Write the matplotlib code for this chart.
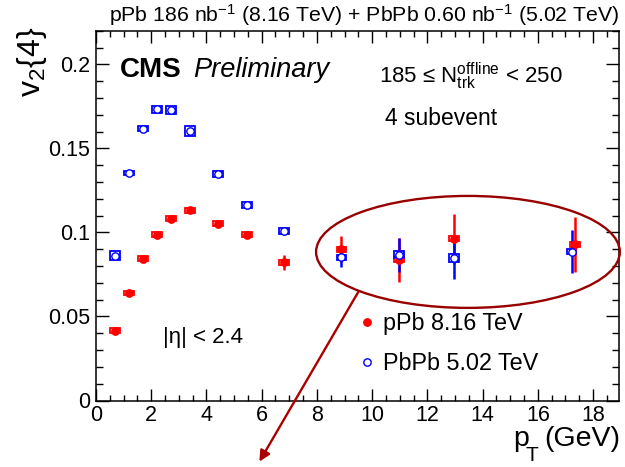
import matplotlib
matplotlib.use('Agg')
import matplotlib.pyplot as plt
from matplotlib.patches import Rectangle, Ellipse
from matplotlib.lines import Line2D
from matplotlib.ticker import MultipleLocator

plt.rcParams['font.family'] = ['Liberation Sans', 'DejaVu Sans']
plt.rcParams['mathtext.fontset'] = 'custom'
plt.rcParams['mathtext.rm'] = 'Liberation Sans'
plt.rcParams['mathtext.it'] = 'Liberation Sans:italic'
plt.rcParams['mathtext.bf'] = 'Liberation Sans:bold'

# pPb 8.16 TeV
pt_ppb = [0.68, 1.19, 1.70, 2.21, 2.72, 3.41, 4.43, 5.46, 6.81, 8.89, 10.96, 12.97, 17.34]
v2_ppb = [0.0414, 0.0640, 0.0844, 0.0987, 0.1080, 0.1132, 0.1052, 0.0987, 0.0821, 0.0900, 0.0837, 0.0961, 0.0930]
stat_ppb = [0.0004, 0.0004, 0.0005, 0.0006, 0.0007, 0.0008, 0.0010, 0.0022, 0.0042, 0.0078, 0.0130, 0.0149, 0.0163]
sys_ppb = [0.0015, 0.0013, 0.0013, 0.0014, 0.0015, 0.0014, 0.0015, 0.0016, 0.0016, 0.0014, 0.0014, 0.0015, 0.0014]

# PbPb 5.02 TeV
pt_pbpb = [0.68, 1.19, 1.70, 2.21, 2.72, 3.41, 4.43, 5.46, 6.81, 8.89, 10.96, 12.97, 17.22]
v2_pbpb = [0.0860, 0.1356, 0.1617, 0.1734, 0.1726, 0.1605, 0.1348, 0.1164, 0.1007, 0.0853, 0.0866, 0.0847, 0.0886]
stat_pbpb = [0.0004, 0.0004, 0.0005, 0.0006, 0.0007, 0.0008, 0.0010, 0.0024, 0.0024, 0.0057, 0.0099, 0.0124, 0.0129]
sys_pbpb = [0.0027, 0.0012, 0.0015, 0.0021, 0.0024, 0.0030, 0.0018, 0.0018, 0.0018, 0.0015, 0.0021, 0.0024, 0.0015]

box_hw = 0.18  # half width of the systematic boxes in GeV

W, H = 625, 467
def fx(x):
    return x / W
def fy(y):
    return 1 - y / H

fig = plt.figure(figsize=(6.25, 4.67), dpi=100)
ax = fig.add_axes([fx(96), fy(400.5), fx(619) - fx(96), fy(30.7) - fy(400.5)])
ax.set_xlim(0, 18.94)
ax.set_ylim(0, 0.22)

def draw_set(pt, v2, stat, sys, col, mfc):
    for x, y, s in zip(pt, v2, sys):
        ax.add_patch(Rectangle((x - box_hw, y - s), 2 * box_hw, 2 * s,
                               fill=False, ec=col, lw=1.3, zorder=3))
    ax.errorbar(pt, v2, yerr=stat, fmt='o', color=col, mfc=mfc, mec=col,
                ms=5.3, mew=1.0, elinewidth=1.8, capsize=0, zorder=4)

draw_set(pt_ppb, v2_ppb, stat_ppb, sys_ppb, 'red', 'red')
draw_set(pt_pbpb, v2_pbpb, stat_pbpb, sys_pbpb, 'blue', 'white')

# ROOT-like frame and ticks
for sp in ax.spines.values():
    sp.set_linewidth(1.1)
ax.xaxis.set_major_locator(MultipleLocator(2))
ax.xaxis.set_minor_locator(MultipleLocator(0.5))
ax.yaxis.set_major_locator(MultipleLocator(0.05))
ax.yaxis.set_minor_locator(MultipleLocator(0.01))
ax.tick_params(axis='both', which='both', direction='in', top=True, right=True, width=1.0)
ax.tick_params(axis='x', which='major', length=8.5, pad=3, labelsize=15.5)
ax.tick_params(axis='x', which='minor', length=4.3)
ax.tick_params(axis='y', which='major', length=9.5, pad=4, labelsize=15.5)
ax.tick_params(axis='y', which='minor', length=5)
ax.set_yticks([0, 0.05, 0.1, 0.15, 0.2])
ax.set_yticklabels(['0', '0.05', '0.1', '0.15', '0.2'])

# labels
fig.text(fx(619), fy(22), r'pPb 186 nb$^{-1}$ (8.16 TeV) + PbPb 0.60 nb$^{-1}$ (5.02 TeV)',
         ha='right', va='baseline', fontsize=15.3)
fig.text(fx(32), fy(27), r'v$_2${4}', rotation=90, ha='center', va='top', fontsize=23)

# x title drawn ROOT style with a large, low subscript
fig.text(fx(513), fy(446), 'p', ha='left', va='baseline', fontsize=20.5)
fig.text(fx(526), fy(461), 'T', ha='left', va='baseline', fontsize=15)
fig.text(fx(620), fy(446), '(GeV)', ha='right', va='baseline', fontsize=20.5)

fig.text(fx(120), fy(77), 'CMS', fontsize=20, fontweight='bold', ha='left', va='baseline')
fig.text(fx(193), fy(77), 'Preliminary', fontsize=19.6, style='italic', ha='left', va='baseline')
fig.text(fx(379), fy(83), r'185 ≤ N$_{\mathrm{trk}}^{\mathrm{offline}}$ < 250', fontsize=16,
         ha='left', va='baseline')
fig.text(fx(385), fy(125), '4 subevent', fontsize=16.5, ha='left', va='baseline')
fig.text(fx(163), fy(343), '|η| < 2.4', fontsize=16, ha='left', va='baseline')

handles = [Line2D([], [], ls='none', marker='o', color='red', mfc='red', ms=5.3),
           Line2D([], [], ls='none', marker='o', color='blue', mfc='white', ms=5.3, mew=1.0)]
ax.legend(handles, ['pPb 8.16 TeV', 'PbPb 5.02 TeV'], loc='upper left',
          bbox_to_anchor=(fx(360), fy(312)), bbox_transform=fig.transFigure,
          frameon=False, fontsize=16.8, handlelength=0.6, handletextpad=0.4,
          borderpad=0, borderaxespad=0, labelspacing=0.75)

# highlight of the high-pT region
ax.add_patch(Ellipse((13.47, 0.0884), 11.0, 0.0666, fill=False, ec='#990000',
                     lw=1.7, clip_on=False, zorder=5))
ax.annotate('', xy=(258, 3), xycoords='figure pixels', xytext=(360, 178),
            textcoords='figure pixels',
            arrowprops=dict(arrowstyle='-|>', color='#aa0000', lw=1.7, mutation_scale=16))

fig.savefig('out.png', dpi=100)
